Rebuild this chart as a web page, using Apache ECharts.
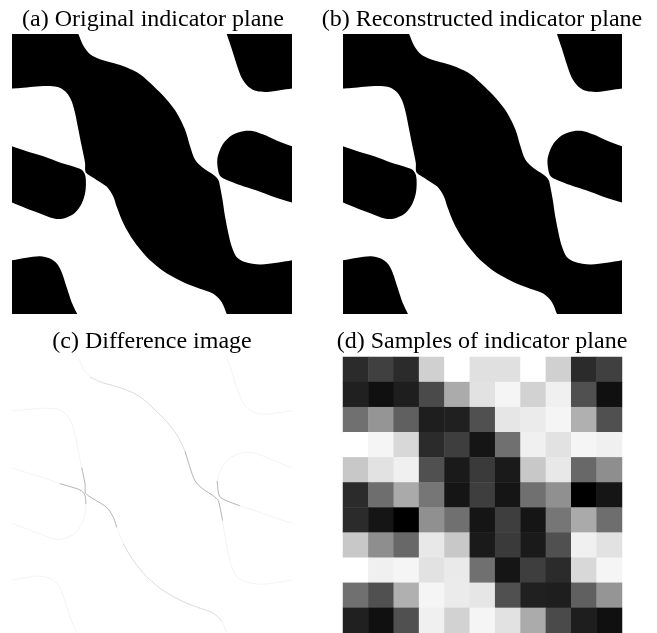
<!DOCTYPE html>
<html>
<head>
<meta charset="utf-8">
<script src="https://cdn.jsdelivr.net/npm/echarts@6/dist/echarts.min.js"></script>
<style>
  html, body { margin: 0; padding: 0; background: #fff; }
  #chart { width: 657px; height: 633px; }
</style>
</head>
<body>
<div id="chart"></div>
<script>
// panel titles
const panelTitles = [
    "(a) Original indicator plane",
    "(b) Reconstructed indicator plane",
    "(c) Difference image",
    "(d) Samples of indicator plane",
];

// black regions of the indicator plane, points in percent of the panel (y down)
const shapeMain = [
    [0, 0], [23.7, 0], [25.5, 4.2], [27.9, 7.2], [31.4, 9.0], [36.2, 10.4], [41.0, 12.0],
    [45.7, 14.4], [50.5, 18.6], [55.2, 23.4], [58.8, 28.1], [61.8, 34.1], [63.6, 40.1],
    [65.4, 44.9], [68.3, 47.9], [71.9, 50.3], [73.7, 52.1], [74.3, 54.5], [75.2, 59.3],
    [76.1, 65.3], [77.3, 71.3], [78.5, 76.0], [80.2, 79.6], [83.2, 81.4], [88.6, 82.3],
    [94.5, 81.7], [100, 80.8],
    [100, 100], [76.7, 100], [74.9, 95.8], [71.9, 92.8], [67.1, 91.0], [62.4, 89.2],
    [57.6, 86.8], [52.9, 83.8], [48.1, 79.6], [43.3, 73.7], [39.8, 67.7], [37.4, 61.7],
    [36.2, 58.1], [33.8, 54.5], [30.2, 52.1], [27.3, 50.3], [26.2, 49.1], [26.1, 46.1],
    [24.9, 40.1], [23.7, 34.1], [22.5, 28.1], [21.3, 24.0], [19.5, 21.0], [17.1, 19.2],
    [13.6, 18.6], [7.6, 18.8], [2.9, 19.3], [0, 19.5],
];
const shapeTopRight = [
    [100, 0], [76.7, 0], [78.5, 5.4], [80.2, 10.8], [82.0, 15.6], [84.4, 18.8],
    [87.4, 20.4], [91.0, 20.7], [95.7, 20.1], [100, 19.5],
];
const shapeRight = [
    [100, 40.1], [94.5, 38.0], [89.8, 35.9], [86.2, 34.7], [82.6, 34.7], [79.0, 35.9],
    [76.1, 38.3], [74.3, 41.3], [73.3, 44.9], [73.7, 49.1], [74.5, 50.9], [76.7, 52.1],
    [81.4, 53.9], [87.4, 55.9], [93.3, 58.1], [100, 60.2],
];
const shapeLeft = [
    [0, 40.1], [5.2, 41.9], [11.2, 43.7], [17.1, 45.9], [21.9, 47.3], [24.9, 48.5],
    [26.1, 50.3], [26.4, 53.3], [26.1, 56.9], [24.9, 60.5], [22.5, 63.8], [19.5, 65.5],
    [16.5, 66.1], [13.6, 65.5], [10.0, 64.1], [5.2, 62.3], [0, 60.2],
];
const shapeBottomLeft = [
    [0, 100], [0, 80.8], [5.2, 79.9], [10.0, 79.4], [13.6, 80.2], [16.0, 82.0],
    [17.7, 85.0], [19.5, 90.4], [21.3, 95.8], [23.3, 100],
];

// difference image: faint outlines, with stronger parts near the pinch points
const diffMid = [
    [[27.9, 7.2], [31.4, 9.0], [36.2, 10.4], [41.0, 12.0], [45.7, 14.4], [50.5, 18.6], [55.2, 23.4], [58.8, 28.1], [61.8, 34.1]],
    [[74.9, 95.8], [71.9, 92.8], [67.1, 91.0], [62.4, 89.2], [57.6, 86.8], [52.9, 83.8], [48.1, 79.6], [43.3, 73.7], [39.8, 67.7]],
];
const diffDark = [
    [[17.1, 45.9], [21.9, 47.3], [24.9, 48.5], [26.1, 50.3], [26.4, 53.3]],
    [[24.9, 40.1], [26.1, 46.1], [26.2, 49.1], [27.3, 50.3], [30.2, 52.1], [33.8, 54.5], [36.2, 58.1], [37.4, 61.7]],
    [[73.3, 44.9], [73.7, 49.1], [74.5, 50.9], [76.7, 52.1], [81.4, 53.9]],
    [[61.8, 34.1], [63.6, 40.1], [65.4, 44.9], [68.3, 47.9], [71.9, 50.3], [73.7, 52.1], [74.3, 54.5], [75.2, 59.3]],
];

// 11 x 11 samples, grey level 0 (black) .. 255 (white), row by row from the top
const sampleRows = [
    [0x2b, 0x40, 0x2b, 0xd0, 0xff, 0xe0, 0xe0, 0xff, 0xd0, 0x2b, 0x40],
    [0x20, 0x10, 0x1e, 0x4a, 0xab, 0xe2, 0xf5, 0xd2, 0xf0, 0x50, 0x10],
    [0x70, 0x95, 0x60, 0x1e, 0x20, 0x50, 0xe6, 0xeb, 0xf5, 0xb0, 0x50],
    [0xff, 0xf5, 0xd8, 0x2b, 0x3e, 0x15, 0x70, 0xf0, 0xe2, 0xf5, 0xf0],
    [0xc8, 0xe2, 0xf0, 0x50, 0x1a, 0x3a, 0x1a, 0xc8, 0xe8, 0x68, 0x8e],
    [0x2b, 0x6e, 0xaa, 0x76, 0x15, 0x3e, 0x15, 0x70, 0x90, 0x00, 0x15],
    [0x2b, 0x15, 0x00, 0x90, 0x70, 0x15, 0x3e, 0x15, 0x76, 0xaa, 0x6e],
    [0xc8, 0x8e, 0x68, 0xe8, 0xc8, 0x1a, 0x3a, 0x1a, 0x50, 0xf0, 0xe2],
    [0xff, 0xf0, 0xf5, 0xe2, 0xea, 0x70, 0x15, 0x3e, 0x2b, 0xd8, 0xf5],
    [0x70, 0x50, 0xb0, 0xf5, 0xeb, 0xe6, 0x50, 0x20, 0x1e, 0x60, 0x95],
    [0x20, 0x10, 0x50, 0xf0, 0xd2, 0xf5, 0xe2, 0xab, 0x4a, 0x1e, 0x10],
];
const sampleCols = ["0", "1", "2", "3", "4", "5", "6", "7", "8", "9", "10"];

const shapes = [shapeMain, shapeTopRight, shapeRight, shapeLeft, shapeBottomLeft];
// outline curves = shape borders without the parts on the panel edge
const outlines = [
    shapeMain.slice(1, 27),
    shapeMain.slice(28),
    shapeTopRight.slice(1),
    shapeRight,
    shapeLeft,
    shapeBottomLeft.slice(1),
];

var myChart = echarts.init(document.getElementById("chart"));

function onEdge(p) {
    return p[0] === 0 || p[0] === 100 || p[1] === 0 || p[1] === 100;
}

function shapeSeries(idx, list, kind, style) {
    return {
        type: "custom",
        xAxisIndex: idx,
        yAxisIndex: idx,
        silent: true,
        data: list.map((s) => s[0]),
        renderItem: function (params, api) {
            var pts = [];
            list[params.dataIndex].forEach((p) => {
                var c = api.coord(p);
                pts.push(c);
                // doubled point = sharp corner where the curve meets the panel edge
                if (kind === "polygon" && onEdge(p)) pts.push(c.slice());
            });
            var box = [api.coord([0, 0]), api.coord([100, 100])];
            return {
                type: kind,
                shape: { points: pts, smooth: 0.3, smoothConstraint: box },
                style: style,
            };
        },
    };
}

var heatData = [];
sampleRows.forEach((row, r) => {
    row.forEach((v, c) => heatData.push([c, r, v]));
});

var grids = [
    { left: 12, top: 34, width: 280, height: 280 },
    { left: 343, top: 34, width: 279, height: 280 },
    { left: 12, top: 357, width: 280, height: 279 },
    { left: 343, top: 357, width: 279, height: 279 },
];
var titlePos = [
    { left: 153, top: 8 },
    { left: 482, top: 8 },
    { left: 152, top: 330 },
    { left: 482, top: 330 },
];

var valueX = { type: "value", min: 0, max: 100, show: false };
var valueY = { type: "value", min: 0, max: 100, inverse: true, show: false };

option = {
    animation: false,
    backgroundColor: "#fff",
    title: panelTitles.map((t, i) => ({
        text: t,
        left: titlePos[i].left,
        top: titlePos[i].top,
        textAlign: "center",
        padding: 0,
        textStyle: {
            fontFamily: "Liberation Serif",
            fontSize: 24,
            fontWeight: "normal",
            color: "#000",
        },
    })),
    grid: grids,
    xAxis: [
        Object.assign({ gridIndex: 0 }, valueX),
        Object.assign({ gridIndex: 1 }, valueX),
        Object.assign({ gridIndex: 2 }, valueX),
        { gridIndex: 3, type: "category", data: sampleCols, show: false },
    ],
    yAxis: [
        Object.assign({ gridIndex: 0 }, valueY),
        Object.assign({ gridIndex: 1 }, valueY),
        Object.assign({ gridIndex: 2 }, valueY),
        { gridIndex: 3, type: "category", data: sampleCols, inverse: true, show: false },
    ],
    visualMap: {
        show: false,
        seriesIndex: 5,
        dimension: 2,
        min: 0,
        max: 255,
        inRange: { color: ["#000000", "#ffffff"] },
    },
    series: [
        shapeSeries(0, shapes, "polygon", { fill: "#000" }),
        shapeSeries(1, shapes, "polygon", { fill: "#000" }),
        shapeSeries(2, outlines, "polyline", { stroke: "#f0f0f0", lineWidth: 0.8, fill: null }),
        shapeSeries(2, diffMid, "polyline", { stroke: "#d4d4d4", lineWidth: 0.7, fill: null }),
        shapeSeries(2, diffDark, "polyline", { stroke: "#9a9a9a", lineWidth: 0.7, fill: null }),
        {
            type: "heatmap",
            xAxisIndex: 3,
            yAxisIndex: 3,
            silent: true,
            data: heatData,
        },
    ],
};
myChart.setOption(option, true);
</script>
</body>
</html>
